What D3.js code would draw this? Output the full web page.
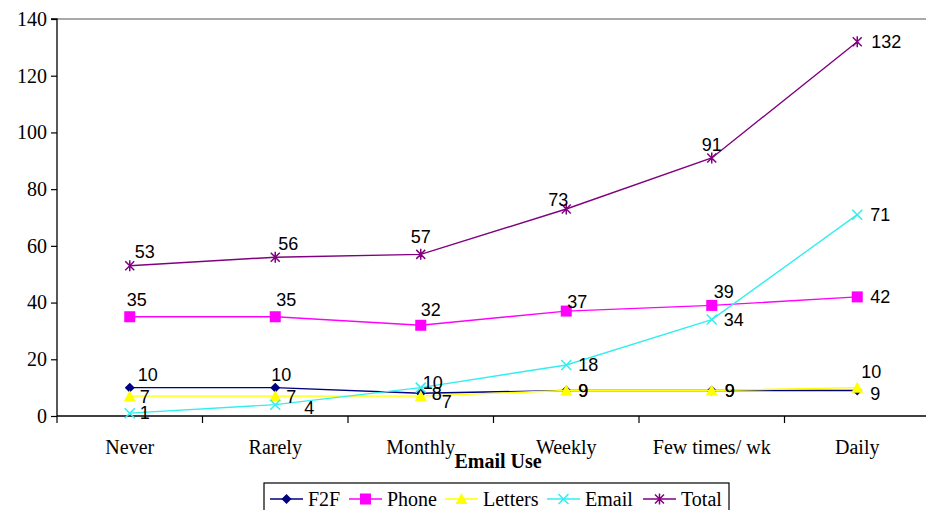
<!DOCTYPE html>
<html><head><meta charset="utf-8">
<script src="https://cdn.jsdelivr.net/npm/d3@7/dist/d3.min.js"></script>
<style>body{margin:0;background:#fff}svg{display:block}</style>
</head><body><svg id="c" width="926" height="510"></svg>
<script>
const categories = ["Never","Rarely","Monthly","Weekly","Few times/ wk","Daily"];
const yTicks = [0,20,40,60,80,100,120,140];
const f2f = [10,10,8,9,9,9];
const phone = [35,35,32,37,39,42];
const letters = [7,7,7,9,9,10];
const email = [1,4,10,18,34,71];
const total = [53,56,57,73,91,132];
const seriesNames = ["F2F","Phone","Letters","Email","Total"];

// label offsets (dx, dy of label centre from marker)
const labelOffsets = {
  F2F:[[18,-13],[6,-13],[16,0],[17,0],[18,0],[18,3]],
  Phone:[[7,-17],[11,-17],[10,-16],[11,-9],[12,-14],[23,0]],
  Letters:[[15,1],[16,1],[26,6],[17,0],[18,0],[14,-16]],
  Email:[[15,0],[34,3],[12,-5],[22,0],[22,0],[23,0]],
  Total:[[15,-14],[13,-14],[0,-18],[-8,-9],[0,-13],[29,0]]
};

const svg = d3.select("#c");
const x0 = 57, bw = 145.5;
const x = d3.scaleBand().domain(categories).range([x0, x0 + bw*categories.length]);
const y = d3.scaleLinear().domain([0,140]).range([416,19]);
const cx = c => x(c) + x.bandwidth()/2;

// top border
svg.append("line").attr("x1",x0).attr("x2",926).attr("y1",y(140)).attr("y2",y(140))
  .attr("stroke","#8c8c8c").attr("stroke-width",1.5);

// y axis
const ya = svg.append("g").attr("transform",`translate(${x0},0)`)
  .call(d3.axisLeft(y).tickValues(yTicks).tickSize(6).tickPadding(4));
ya.select(".domain").attr("stroke","#000").attr("stroke-width",1.3).attr("d",`M-6,${y(140)}H0V${y(0)}`);
ya.selectAll(".tick line").attr("stroke","#000").attr("stroke-width",1.2);
ya.selectAll("text").attr("font-family","Liberation Serif").attr("font-size",20).attr("fill","#000");

// x axis
const xa = svg.append("g").attr("transform",`translate(0,${y(0)})`)
  .call(d3.axisBottom(x).tickSize(0).tickPadding(24));
xa.select(".domain").attr("stroke","#000").attr("stroke-width",1.3).attr("d",`M${x0},0H926`);
xa.selectAll("text").attr("font-family","Liberation Serif").attr("font-size",20).attr("fill","#000");
// boundary ticks
svg.append("g").selectAll("line").data(categories).join("line")
  .attr("x1",d=>x(d)).attr("x2",d=>x(d)).attr("y1",y(0)).attr("y2",y(0)+7)
  .attr("stroke","#000").attr("stroke-width",1.2);

svg.append("text").attr("x",498).attr("y",468).attr("text-anchor","middle")
  .attr("font-family","Liberation Serif").attr("font-size",20).attr("font-weight","bold").text("Email Use");

const series = [
  {name:"F2F", values:f2f, color:"#000080", sym:"diamond"},
  {name:"Phone", values:phone, color:"#FF00FF", sym:"square"},
  {name:"Letters", values:letters, color:"#FFFF00", sym:"triangle"},
  {name:"Email", values:email, color:"#33EEEE", sym:"x"},
  {name:"Total", values:total, color:"#800080", sym:"star"}
];

function marker(g, sym, color, px, py){
  if(sym==="diamond"){
    g.append("path").attr("d",`M${px},${py-5}L${px+5},${py}L${px},${py+5}L${px-5},${py}Z`).attr("fill",color);
  } else if(sym==="square"){
    g.append("rect").attr("x",px-5.5).attr("y",py-5.5).attr("width",11).attr("height",11).attr("fill",color);
  } else if(sym==="triangle"){
    g.append("path").attr("d",`M${px},${py-6}L${px+6},${py+5}L${px-6},${py+5}Z`).attr("fill",color);
  } else if(sym==="x"){
    g.append("path").attr("d",`M${px-5},${py-5}L${px+5},${py+5}M${px-5},${py+5}L${px+5},${py-5}`)
      .attr("stroke",color).attr("stroke-width",1.5);
  } else if(sym==="star"){
    g.append("path").attr("d",`M${px-4.5},${py-4.5}L${px+4.5},${py+4.5}M${px-4.5},${py+4.5}L${px+4.5},${py-4.5}M${px},${py-5.5}V${py+5.5}`)
      .attr("stroke",color).attr("stroke-width",1.5);
  }
}

const line = d3.line().x((d,i)=>cx(categories[i])).y(d=>y(d));
series.forEach(s=>{
  const g = svg.append("g");
  g.append("path").datum(s.values).attr("d",line).attr("fill","none")
    .attr("stroke",s.color).attr("stroke-width",1.4);
  s.values.forEach((v,i)=>marker(g,s.sym,s.color,cx(categories[i]),y(v)));
});
// labels
series.forEach(s=>{
  svg.append("g").selectAll("text").data(s.values).join("text")
    .attr("x",(d,i)=>cx(categories[i])+labelOffsets[s.name][i][0])
    .attr("y",(d,i)=>y(d)+labelOffsets[s.name][i][1])
    .attr("dy","0.35em").attr("text-anchor","middle")
    .attr("font-family","Liberation Sans").attr("font-size",18).attr("fill","#000")
    .text(d=>d);
});

// legend
const lg = svg.append("g");
lg.append("rect").attr("x",264).attr("y",483).attr("width",465).attr("height",40)
  .attr("fill","#fff").attr("stroke","#000").attr("stroke-width",1.2);
const legX = [270,349,445,547,643];
series.forEach((s,i)=>{
  const lx = legX[i], ly = 499;
  lg.append("line").attr("x1",lx).attr("x2",lx+33).attr("y1",ly).attr("y2",ly)
    .attr("stroke",s.color).attr("stroke-width",1.5);
  marker(lg,s.sym,s.color,lx+16.5,ly);
  lg.append("text").attr("x",lx+38).attr("y",ly).attr("dy","0.35em")
    .attr("font-family","Liberation Serif").attr("font-size",20).text(s.name);
});
</script></body></html>
